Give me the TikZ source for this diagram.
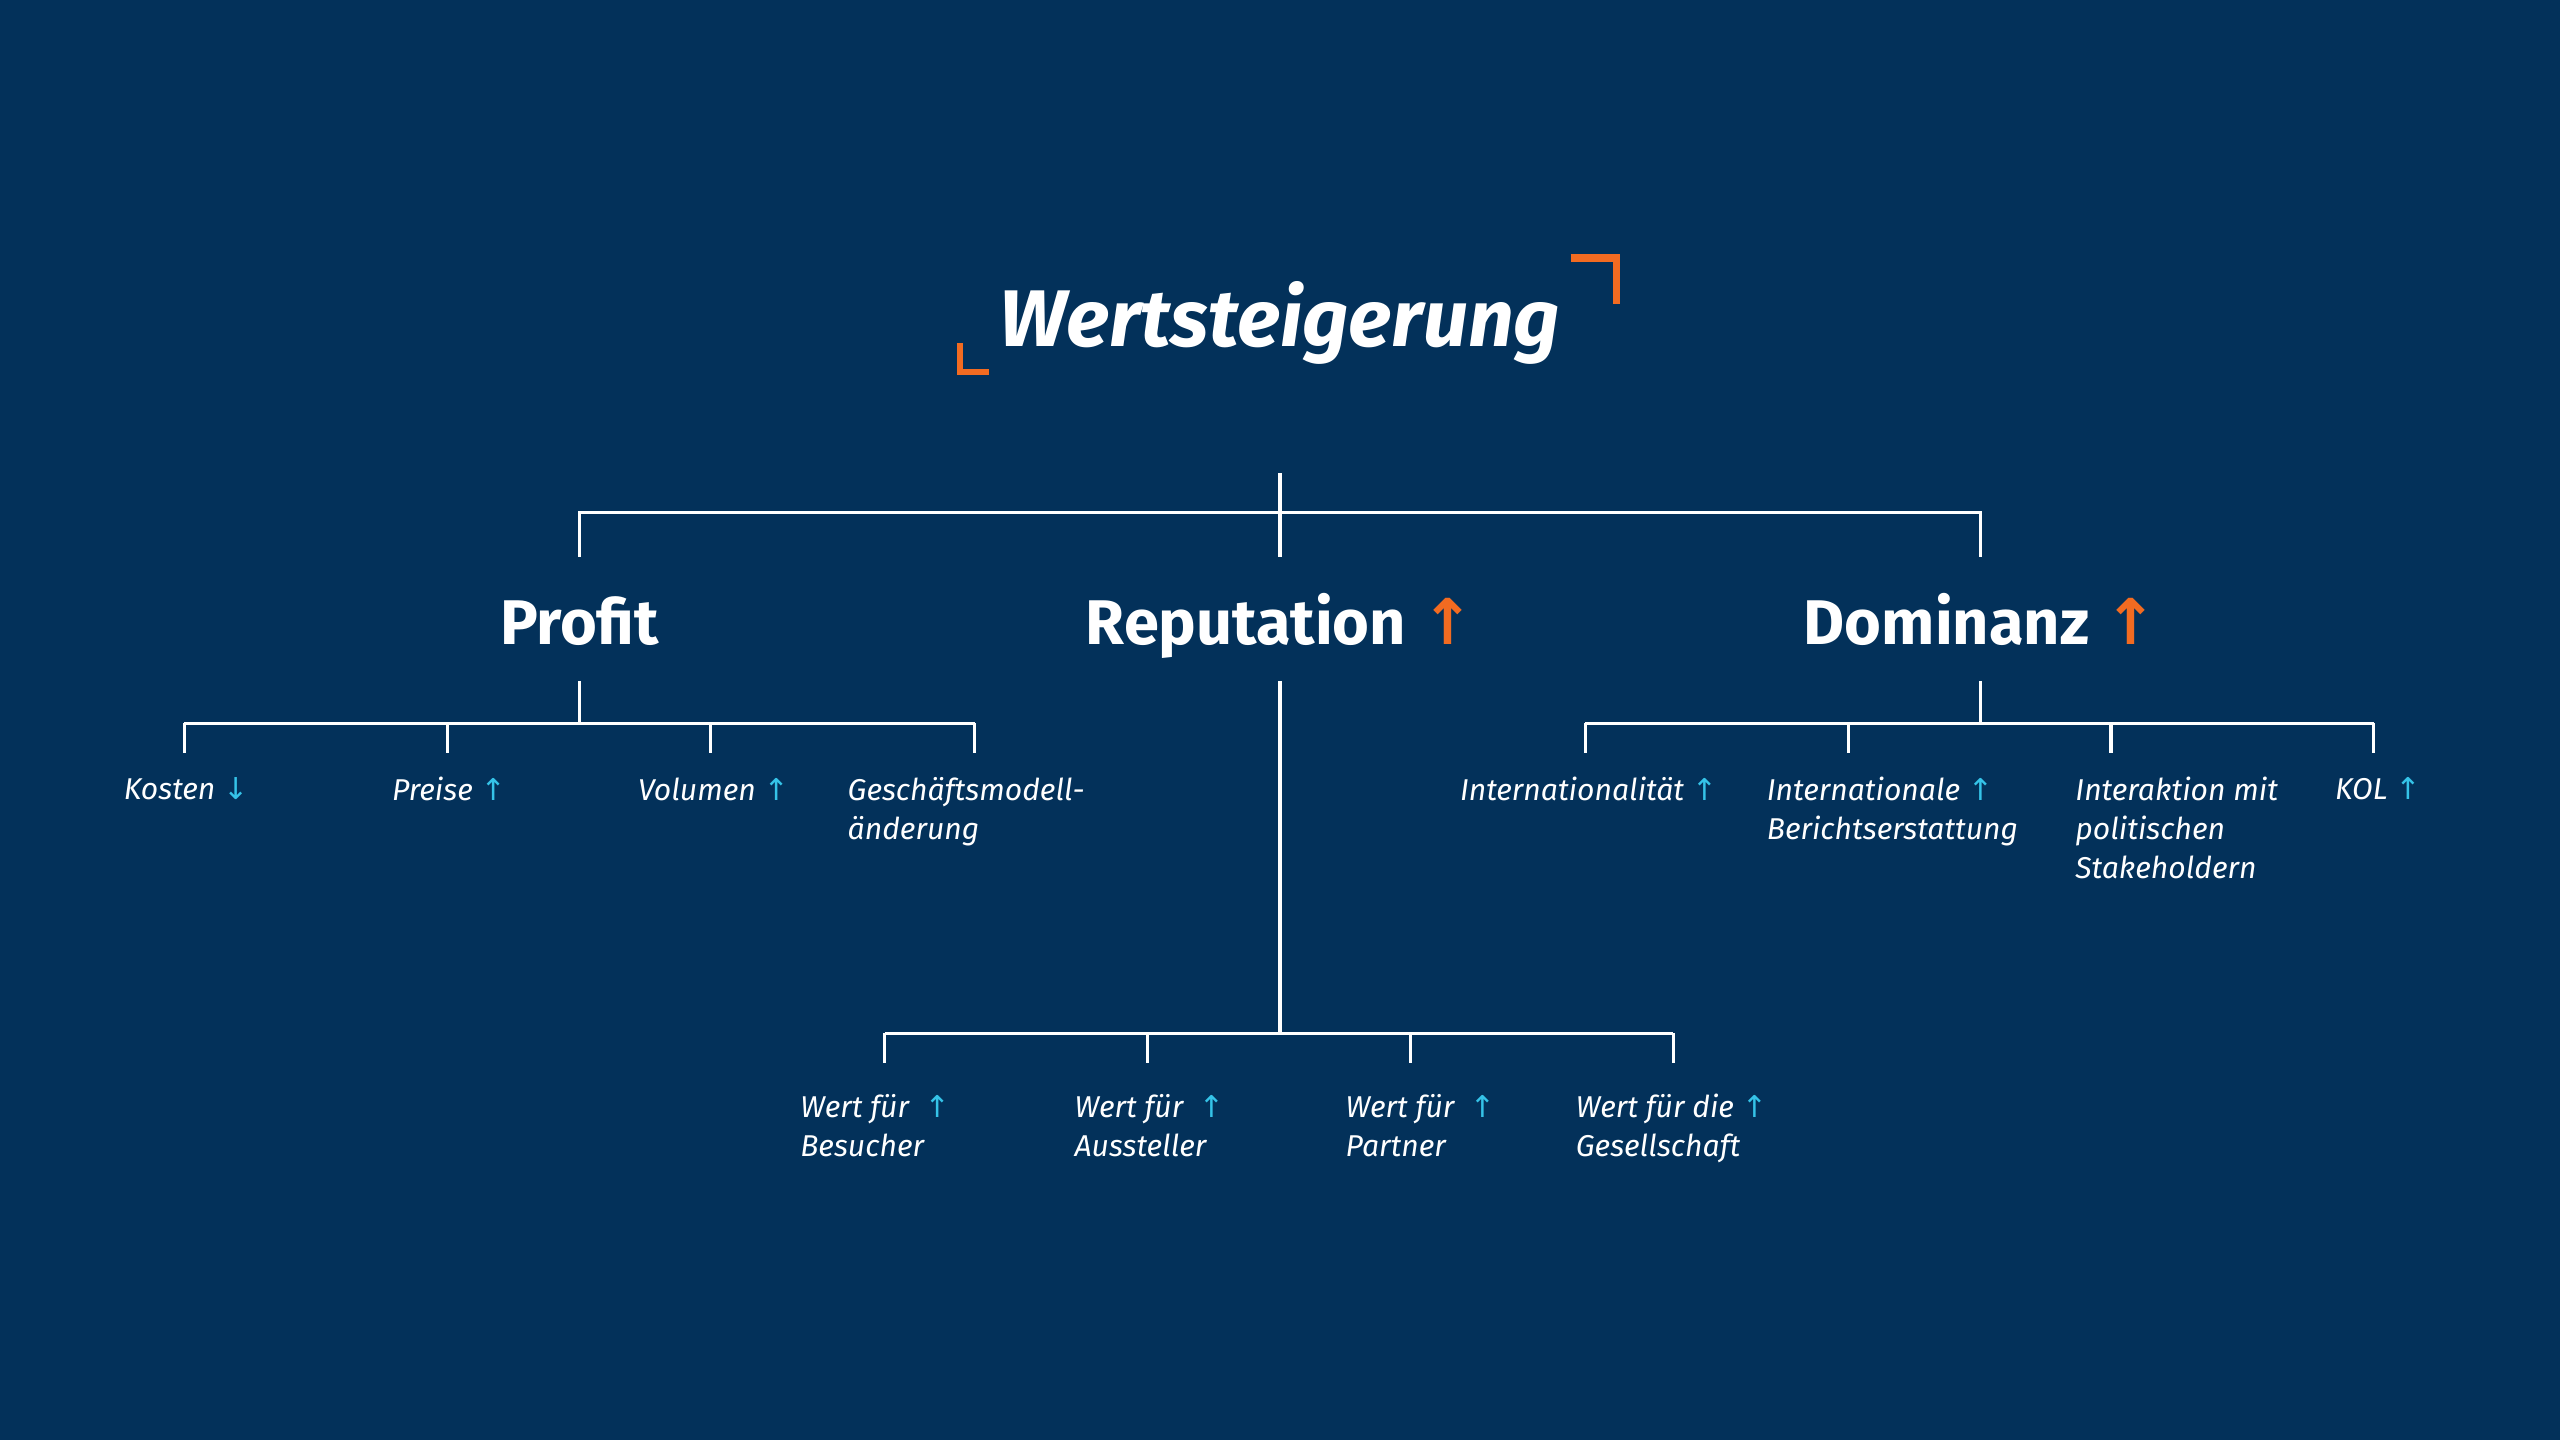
\documentclass[tikz,border=0pt]{standalone}
\usepackage{fontspec}
\setmainfont{Fira Sans}
\newfontfamily\arrowfont{DejaVu Sans}
\definecolor{bg}{HTML}{03315A}
\definecolor{org}{HTML}{F26B21}
\definecolor{cy}{HTML}{35C3E8}
\newcommand{\up}{{\arrowfont\color{cy}\char"2191}}
\newcommand{\dn}{{\arrowfont\color{cy}\char"2193}}
\newcommand{\oup}{{\arrowfont\color{org}\char"2191}}
\begin{document}
\begin{tikzpicture}[x=0.02cm,y=-0.02cm,
  ln/.style={draw=white,line width=1.1pt},
  head/.style={text=white,font=\fontsize{22}{26}\selectfont\bfseries,anchor=base},
  lab/.style={text=white,font=\fontsize{10.5}{13.5}\selectfont\itshape,align=left,anchor=north}]
\fill[bg] (0,0) rectangle (1568,882);
\useasboundingbox (0,0) rectangle (1568,882);
\node[text=white,font=\fontsize{28}{32}\selectfont\itshape\bfseries,anchor=base] (title) at (784,212) {Wertsteigerung};
\draw[org,line width=2.2pt] (588,210) -- (588,228) -- (606,228);
\draw[org,line width=2.6pt] (962,158) -- (990,158) -- (990,186);
\coordinate (t0) at (784,290);
\coordinate (t1) at (784,314);
\coordinate (tl) at (355,314);
\coordinate (tr) at (1213,314);
\coordinate (pl) at (355,341);
\coordinate (dl) at (1213,341);
\coordinate (rl) at (784,341);
\draw[ln] (t0)--(rl);
\draw[ln] (pl)--(tl)--(tr)--(dl);
\node[head] (profit) at (355,395) {Profit};
\node[head] (rep) at (784,395) {Reputation \oup};
\node[head] (dom) at (1213,395) {Dominanz \oup};
% Profit
\coordinate (p0) at (355,417); \coordinate (p1) at (355,443);
\draw[ln] (p0)--(p1);
\draw[ln] (113,443) coordinate (pa) -- (597,443) coordinate (pb);
\foreach \x/\n in {113/k,274/p,435/v,597/g}{\coordinate (d\n) at (\x,443); \coordinate (e\n) at (\x,461); \draw[ln] (d\n)--(e\n);}
\node[lab] (kosten) at (114,470) {Kosten \dn};
\node[lab] (preise) at (275,470) {Preise \up};
\node[lab] (vol) at (437,470) {Volumen \up};
\node[lab,anchor=north west] (gm) at (513,470) {Geschäftsmodell-\\änderung};
% Reputation
\coordinate (r0) at (784,417); \coordinate (r1) at (784,633);
\draw[ln] (r0)--(r1);
\draw[ln] (542,633) coordinate (ra) -- (1025,633) coordinate (rb);
\foreach \x/\n in {542/a,703/b,864/c,1025/d}{\coordinate (q\n) at (\x,633); \coordinate (s\n) at (\x,651); \draw[ln] (q\n)--(s\n);}
\node[lab,anchor=north west] (w1) at (484,664) {Wert für \ \up\\Besucher};
\node[lab,anchor=north west] (w2) at (652,664) {Wert für \ \up\\Aussteller};
\node[lab,anchor=north west] (w3) at (818,664) {Wert für \ \up\\Partner};
\node[lab,anchor=north west] (w4) at (959,664) {Wert für die \up\\Gesellschaft};
% Dominanz
\coordinate (m0) at (1213,417); \coordinate (m1) at (1213,443);
\draw[ln] (m0)--(m1);
\draw[ln] (971,443) coordinate (ma) -- (1454,443) coordinate (mb);
\foreach \x/\n in {971/a,1132/b,1293/c,1454/d}{\coordinate (u\n) at (\x,443); \coordinate (v\n) at (\x,461); \draw[ln] (u\n)--(v\n);}
\node[lab] (int) at (973,470) {Internationalität \up};
\node[lab,anchor=north west] (ib) at (1076,470) {Internationale \up\\Berichtserstattung};
\node[lab,anchor=north west] (ip) at (1265,470) {Interaktion mit\\politischen\\Stakeholdern};
\node[lab,anchor=north west] (kol) at (1424,470) {KOL \up};
\end{tikzpicture}
\end{document}
